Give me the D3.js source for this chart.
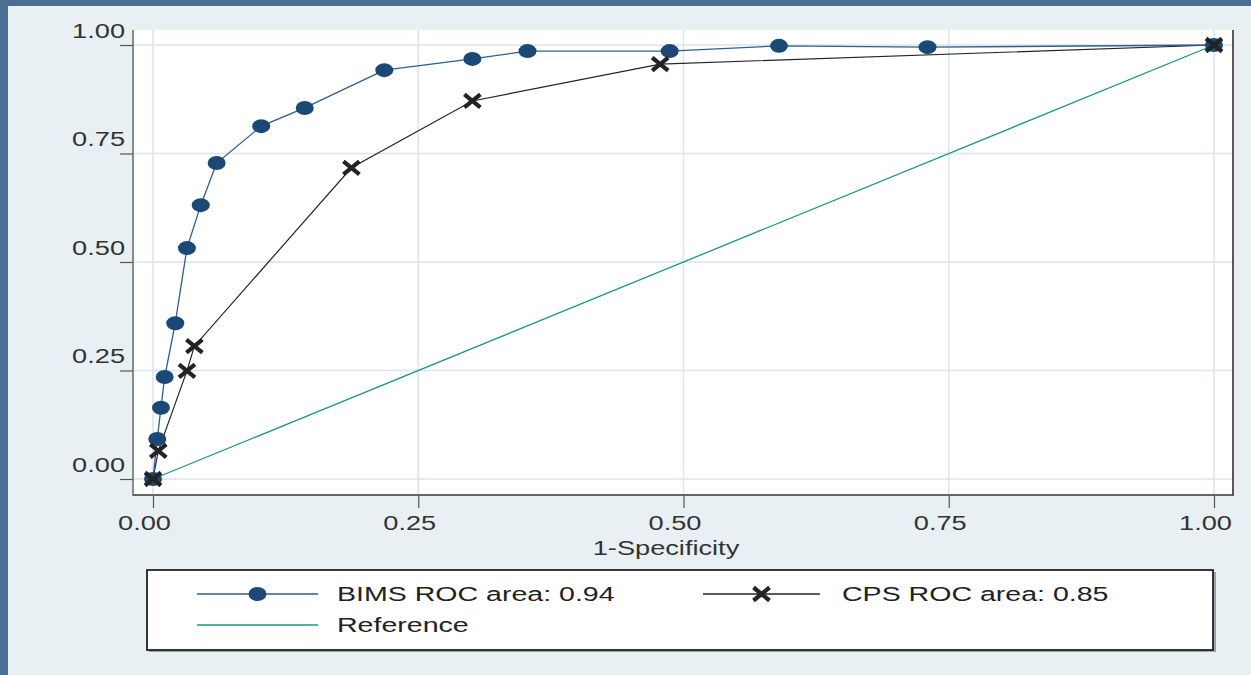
<!DOCTYPE html>
<html>
<head>
<meta charset="utf-8">
<script src="https://cdn.jsdelivr.net/npm/d3@7/dist/d3.min.js"></script>
<style>
  html, body { margin: 0; padding: 0; background: #e9f0f3; }
  svg { display: block; }
  text { font-family: "Liberation Sans", Arial, sans-serif; }
</style>
</head>
<body>
<svg id="chart" width="1251" height="675"></svg>
<script>
// ---- data ----
const bimsX = [0, 0.004, 0.0075, 0.011, 0.021, 0.032, 0.045, 0.060, 0.102, 0.143, 0.218, 0.301, 0.353, 0.487, 0.590, 0.730, 1.0];
const bimsY = [0, 0.092, 0.164, 0.235, 0.359, 0.532, 0.631, 0.728, 0.813, 0.855, 0.942, 0.968, 0.986, 0.986, 0.998, 0.995, 1.0];
const cpsX = [0, 0.005, 0.032, 0.039, 0.187, 0.301, 0.478, 1.0];
const cpsY = [0, 0.065, 0.249, 0.306, 0.717, 0.871, 0.956, 1.0];
const refX = [0, 1];
const refY = [0, 1];
const xTicks = [0, 0.25, 0.5, 0.75, 1];
const yTicks = [0, 0.25, 0.5, 0.75, 1];
const xTitle = "1-Specificity";
const legendLabels = ["BIMS ROC area: 0.94", "CPS ROC area: 0.85", "Reference"];

// ---- layout ----
const W = 1251, H = 675;
const plot = { left: 133, right: 1233, top: 30, bottom: 495 };
const SX = 1.36; // horizontal text stretch
const colBims = "#2f5d8e", colBimsMk = "#1b4874", colCps = "#232323", colRef = "#1f958a";

const svg = d3.select("#chart");

// background: blue frame top/left
svg.append("rect").attr("x", 0).attr("y", 0).attr("width", W).attr("height", H).attr("fill", "#4b6e96");
svg.append("rect").attr("x", 8).attr("y", 6).attr("width", W - 8).attr("height", H - 6).attr("fill", "#e9f0f3");

// plot area
svg.append("rect").attr("x", plot.left).attr("y", plot.top)
  .attr("width", plot.right - plot.left).attr("height", plot.bottom - plot.top).attr("fill", "#ffffff");

const x = d3.scaleLinear().domain([0, 1]).range([153, 1214]);
const y = d3.scaleLinear().domain([0, 1]).range([479, 45]);

// grid
const grid = svg.append("g");
grid.selectAll(".gx").data(xTicks).enter().append("line")
  .attr("x1", d => x(d)).attr("x2", d => x(d)).attr("y1", plot.top).attr("y2", plot.bottom)
  .attr("stroke", "#dbe5ea").attr("stroke-width", 1.5);
grid.selectAll(".gy").data(yTicks).enter().append("line")
  .attr("y1", d => y(d)).attr("y2", d => y(d)).attr("x1", plot.left).attr("x2", plot.right)
  .attr("stroke", "#dbe5ea").attr("stroke-width", 1.5);

// axes
const fmt = d3.format(".2f");
const yAxis = svg.append("g").attr("transform", `translate(${plot.left},0)`)
  .call(d3.axisLeft(y).tickValues(yTicks).tickSize(13).tickFormat(fmt));
yAxis.select(".domain").remove();
yAxis.selectAll(".tick line").attr("stroke", "#555").attr("stroke-width", 1.2);
yAxis.selectAll(".tick text")
  .attr("x", null).attr("dy", null)
  .attr("text-anchor", "end")
  .attr("transform", `translate(-8,-8) scale(${SX},1)`)
  .attr("font-size", 20).attr("fill", "#333")
  .attr("font-family", "Liberation Sans, Arial, sans-serif");

const xAxis = svg.append("g").attr("transform", `translate(0,${plot.bottom})`)
  .call(d3.axisBottom(x).tickValues(xTicks).tickSize(13).tickFormat(fmt));
xAxis.select(".domain").remove();
xAxis.selectAll(".tick line").attr("stroke", "#555").attr("stroke-width", 1.2);
xAxis.selectAll(".tick text")
  .attr("y", null).attr("dy", null)
  .attr("text-anchor", "middle")
  .attr("transform", `translate(-9,35) scale(${SX},1)`)
  .attr("font-size", 20).attr("fill", "#333")
  .attr("font-family", "Liberation Sans, Arial, sans-serif");

// axis lines / border
svg.append("line").attr("x1", plot.left).attr("x2", plot.left).attr("y1", plot.top).attr("y2", plot.bottom + 1)
  .attr("stroke", "#666").attr("stroke-width", 1.5);
svg.append("line").attr("x1", plot.left).attr("x2", plot.right + 1).attr("y1", plot.bottom).attr("y2", plot.bottom)
  .attr("stroke", "#666").attr("stroke-width", 2);
svg.append("line").attr("x1", plot.right).attr("x2", plot.right).attr("y1", plot.top).attr("y2", plot.bottom)
  .attr("stroke", "#333").attr("stroke-width", 1.6);

// x title
svg.append("text").attr("transform", `translate(666,555) scale(${SX},1)`)
  .attr("text-anchor", "middle").attr("font-size", 20).attr("fill", "#333").text(xTitle);

// lines
const line = d3.line().x(d => x(d[0])).y(d => y(d[1]));
const refData = d3.zip(refX, refY), bimsData = d3.zip(bimsX, bimsY), cpsData = d3.zip(cpsX, cpsY);
svg.append("path").attr("d", line(refData)).attr("fill", "none").attr("stroke", colRef).attr("stroke-width", 1.3);
svg.append("path").attr("d", line(cpsData)).attr("fill", "none").attr("stroke", colCps).attr("stroke-width", 1.2);
svg.append("path").attr("d", line(bimsData)).attr("fill", "none").attr("stroke", colBims).attr("stroke-width", 1.3);

// markers
function circleMk(g, cx, cy) {
  g.append("ellipse").attr("cx", cx).attr("cy", cy).attr("rx", 9).attr("ry", 7).attr("fill", colBimsMk);
}
function xMk(g, cx, cy) {
  const dx = 8, dy = 6.5;
  g.append("path").attr("d", `M${cx - dx},${cy - dy}L${cx + dx},${cy + dy}M${cx - dx},${cy + dy}L${cx + dx},${cy - dy}`)
    .attr("stroke", colCps).attr("stroke-width", 4.2).attr("fill", "none");
}
const mk = svg.append("g");
bimsData.forEach(d => circleMk(mk, x(d[0]), y(d[1])));
cpsData.forEach(d => xMk(mk, x(d[0]), y(d[1])));

// legend
const lg = svg.append("g");
lg.append("rect").attr("x", 149).attr("y", 572).attr("width", 1067).attr("height", 80).attr("fill", "#9aa3a8");
lg.append("rect").attr("x", 147).attr("y", 570).attr("width", 1066).attr("height", 80)
  .attr("fill", "#fff").attr("stroke", "#222").attr("stroke-width", 1.8);
const rows = [
  { x1: 197, x2: 318, y: 594, tx: 337, col: colBims, mk: "c", label: legendLabels[0] },
  { x1: 703, x2: 820, y: 594, tx: 842, col: colCps, mk: "x", label: legendLabels[1] },
  { x1: 197, x2: 318, y: 625, tx: 337, col: colRef, mk: null, label: legendLabels[2] }
];
rows.forEach(r => {
  lg.append("line").attr("x1", r.x1).attr("x2", r.x2).attr("y1", r.y).attr("y2", r.y)
    .attr("stroke", r.col).attr("stroke-width", 1.3);
  const cx = (r.x1 + r.x2) / 2;
  if (r.mk === "c") circleMk(lg, cx, r.y);
  if (r.mk === "x") xMk(lg, cx, r.y);
  lg.append("text").attr("transform", `translate(${r.tx},${r.y + 7}) scale(${SX},1)`)
    .attr("font-size", 21).attr("fill", "#222").text(r.label);
});
</script>
</body>
</html>
